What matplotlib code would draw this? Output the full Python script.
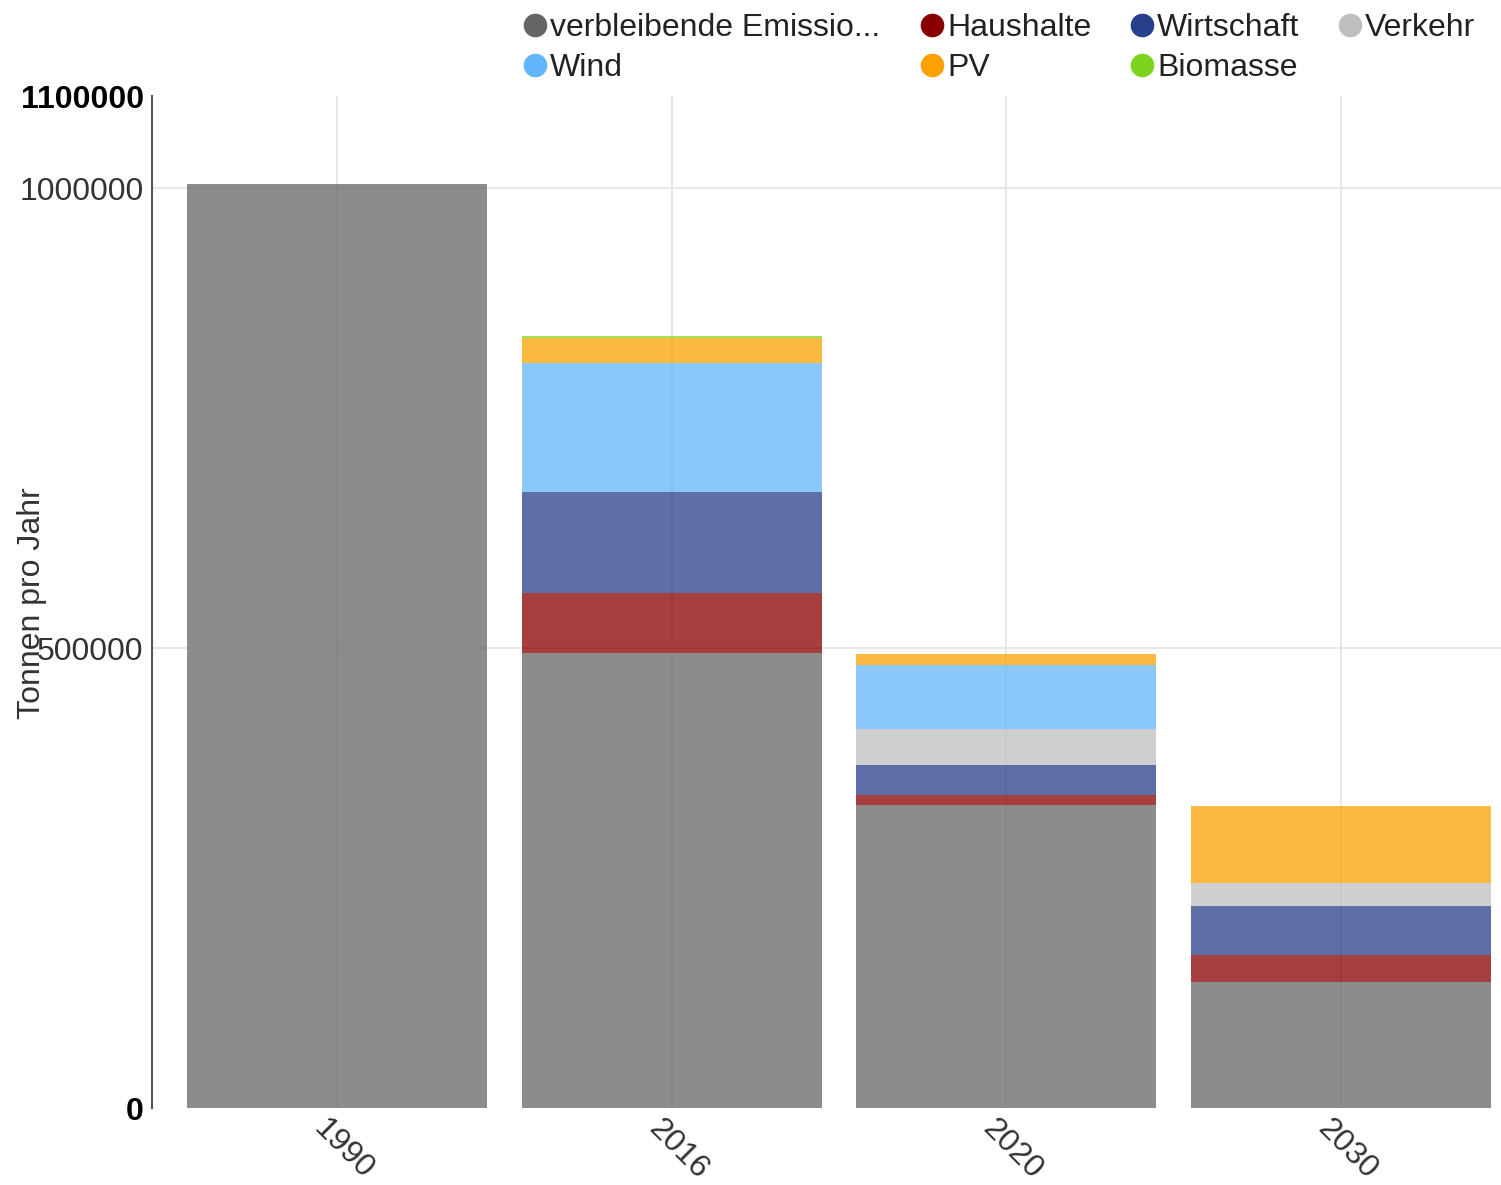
import numpy as np
import matplotlib.pyplot as plt
import matplotlib.transforms as mtransforms
from matplotlib.lines import Line2D

plt.rcParams['font.family'] = ['Liberation Sans', 'DejaVu Sans']

years = ['1990', '2016', '2020', '2030']

# stacked series, bottom to top (tonnes per year)
remaining = [1004000, 494500, 329300, 137000]
households = [0, 65200, 10900, 29300]
economy = [0, 109800, 32600, 53300]
traffic = [0, 0, 39100, 25000]
wind = [0, 140200, 69600, 0]
pv = [0, 27200, 12000, 83700]
biomass = [0, 2500, 0, 0]

series_names = ['verbleibende Emissio...', 'Haushalte', 'Wirtschaft', 'Verkehr',
                'Wind', 'PV', 'Biomasse']
series_values = [remaining, households, economy, traffic, wind, pv, biomass]
series_colors = ['#666666', '#880000', '#283f8b', '#bfbfbf',
                 '#63b6fb', '#fca200', '#7ed321']

yticks = [0, 500000, 1000000, 1100000]

W, H = 1501, 1185
fig = plt.figure(figsize=(W / 100, H / 100), dpi=100)
ax = fig.add_axes([152 / W, 1 - 1108 / H, (W - 152) / W, (1108 - 96) / H])

x = np.arange(len(years))
bottom = np.zeros(len(years))
for name, vals, col in zip(series_names, series_values, series_colors):
    vals = np.array(vals, dtype=float)
    ax.bar(x, vals, width=0.896, bottom=bottom, color=col, alpha=0.75,
           linewidth=0, zorder=2)
    bottom += vals

ax.set_xlim(-0.553, 3.478)
ax.set_ylim(0, 1100000)

# grid
for v in [500000, 1000000]:
    ax.axhline(v, color='#e3e3e3', lw=1.2, zorder=1)
for xi in x:
    ax.axvline(xi, color='#e3e3e3', lw=1.2, zorder=1)

for s in ['top', 'right', 'bottom']:
    ax.spines[s].set_visible(False)
ax.spines['left'].set_color('#555555')
ax.spines['left'].set_linewidth(1.5)

ax.set_yticks(yticks)
ax.set_yticklabels([str(t) for t in yticks], fontsize=23, color='#333333')
for lbl, t in zip(ax.get_yticklabels(), yticks):
    if t in (0, 1100000):
        lbl.set_fontweight('bold')
        lbl.set_color('#000000')
ax.tick_params(axis='y', length=0, pad=6)

ax.set_xticks(x)
ax.set_xticklabels(years, fontsize=23, color='#333333', rotation=-45,
                   ha='center', va='top')
ax.tick_params(axis='x', length=0, pad=4)
shift = mtransforms.ScaledTranslation(6 / 100, 0, fig.dpi_scale_trans)
for lbl in ax.get_xticklabels():
    lbl.set_transform(lbl.get_transform() + shift)

fig.text(32 / W, 1 - 603 / H, 'Tonnen pro Jahr', rotation=90, fontsize=23,
         color='#333333', ha='center', va='center')

# legend laid out in rows like the original
legend_pos = [(535, 25), (932, 25), (1142, 25), (1350, 25),
              (535, 65), (932, 65), (1142, 65)]
for (px, py), name, col in zip(legend_pos, series_names, series_colors):
    fig.add_artist(Line2D([px / W], [1 - py / H], marker='o', markersize=17,
                          color=col, markeredgewidth=0,
                          transform=fig.transFigure))
    fig.text((px + 15) / W, 1 - py / H, name, fontsize=23, color='#222222',
             ha='left', va='center_baseline')

fig.savefig('out.png', dpi=100)
